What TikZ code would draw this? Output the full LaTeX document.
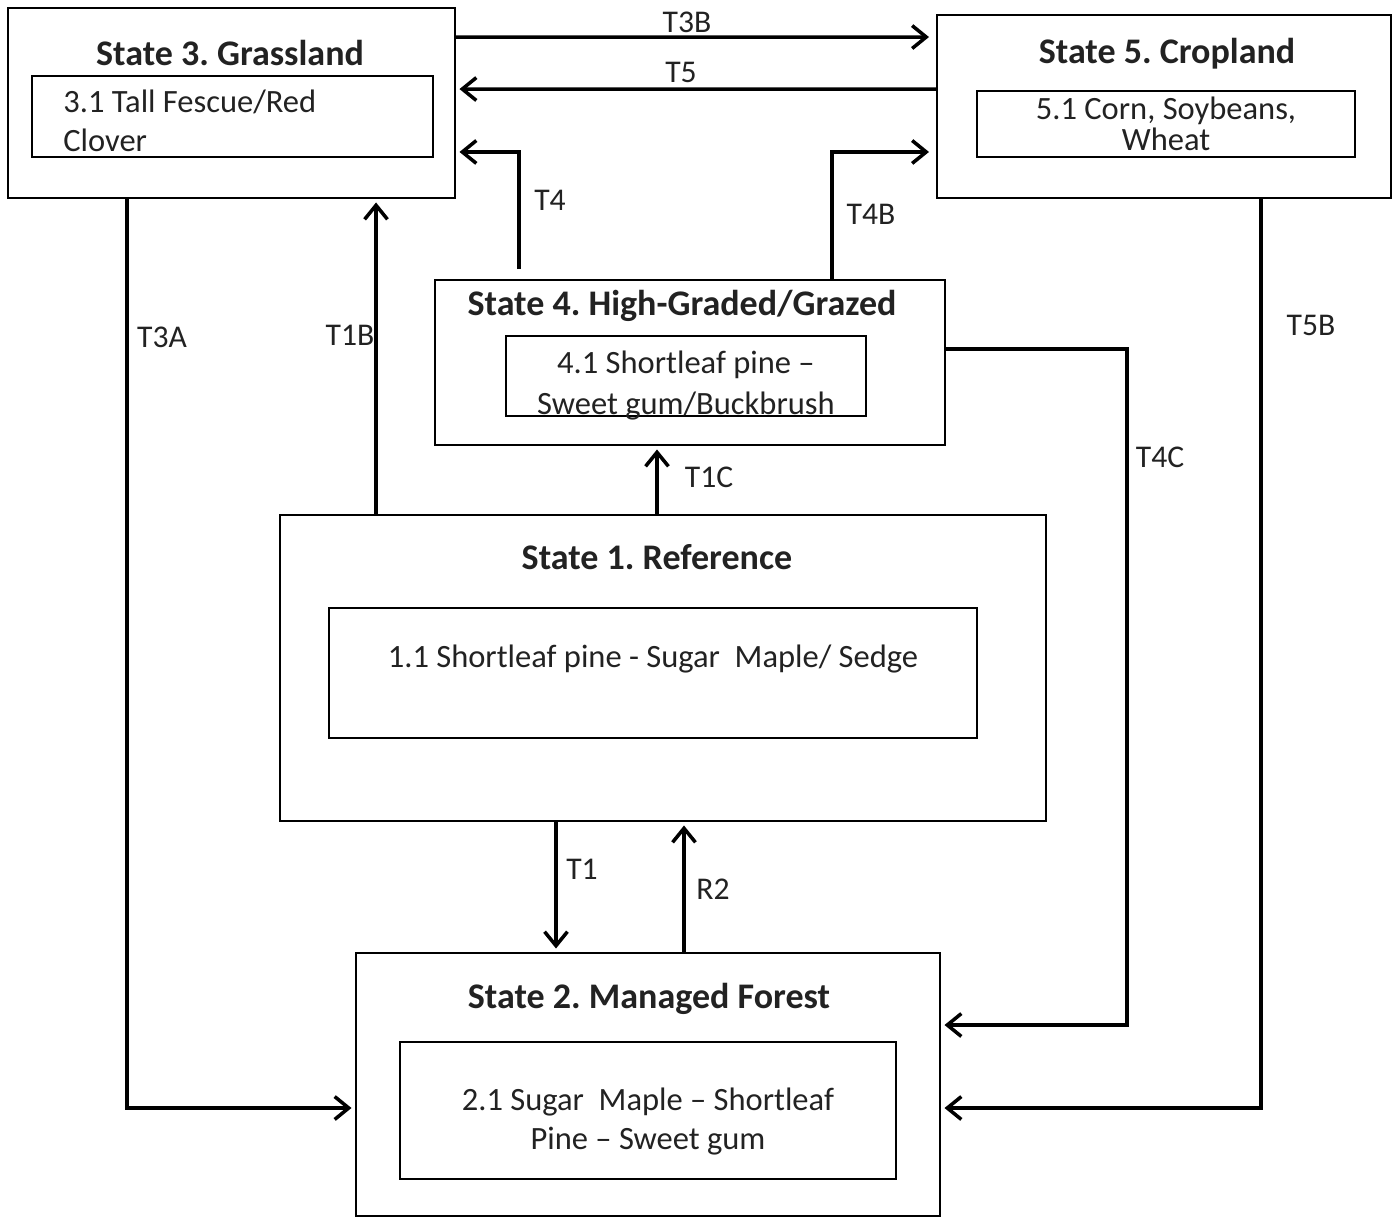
\documentclass[tikz,border=0pt]{standalone}
\usepackage{fontspec}
\setmainfont{Carlito}
\usetikzlibrary{arrows.meta}
\definecolor{txtGrey}{HTML}{222222}
\frenchspacing

\begin{document}
\begin{tikzpicture}[
    statebox/.style={draw, line width=1.1pt, minimum width=#1},
    phasebox/.style={draw, line width=1.1pt, inner sep=0pt},
    phasetext/.style={align=center, font=\fontsize{18.5}{22.5}\selectfont, text=txtGrey, inner sep=0pt},
    title/.style={font=\bfseries\fontsize{20.5}{25}\selectfont, text=txtGrey},
    lbl/.style={font=\fontsize{18}{22}\selectfont, text=txtGrey},
    arr/.style={line width=2pt, -{Straight Barb[length=8pt,width=13pt,line width=2pt]}, shorten >=2pt}
]
    \useasboundingbox (0,0) rectangle (27.96,-24.36);
    % states
    \node[statebox=8.94cm, minimum height=3.80cm] (s3) at (4.63,-2.06) {};
    \node[statebox=9.08cm, minimum height=3.66cm] (s5) at (23.28,-2.13) {};
    \node[statebox=10.20cm, minimum height=3.30cm] (s4) at (13.80,-7.25) {};
    \node[statebox=15.32cm, minimum height=6.12cm] (s1) at (13.26,-13.36) {};
    \node[statebox=11.68cm, minimum height=5.26cm] (s2) at (12.96,-21.69) {};
    \node[title] (s3t) at (4.60,-1.06) {State 3. Grassland};
    \node[title] (s5t) at (23.34,-1.08) {State 5. Cropland};
    \node[title] (s4t) at (13.64,-6.12) {State 4. High-Graded/Grazed};
    \node[title] (s1t) at (13.14,-11.14) {State 1. Reference};
    \node[title] (s2t) at (12.98,-19.98) {State 2. Managed Forest};
    % communities
    \node[phasebox, minimum width=8.02cm, minimum height=1.62cm] (p31) at (4.65,-2.33) {};
    \node[phasebox, minimum width=7.56cm, minimum height=1.32cm] (p51) at (23.32,-2.48) {};
    \node[phasebox, minimum width=7.20cm, minimum height=1.60cm] (p41) at (13.72,-7.52) {};
    \node[phasebox, minimum width=12.96cm, minimum height=2.60cm] (p11) at (13.06,-13.46) {};
    \node[phasebox, minimum width=9.92cm, minimum height=2.74cm] (p21) at (12.96,-22.21) {};
    \node[phasetext, align=left, anchor=west] (p31t) at ([xshift=0.64cm,yshift=-0.09cm]p31.west) {3.1 Tall Fescue/Red\\Clover};
    \node[phasetext] (p51t) at (p51) {5.1 Corn, Soybeans,\\[-4.5pt]Wheat};
    \node[phasetext] (p41t) at ([yshift=-0.19cm]p41) {4.1 Shortleaf pine --\\[1pt]Sweet gum/Buckbrush};
    \node[phasetext] (p11t) at ([yshift=0.28cm]p11) {1.1 Shortleaf pine - Sugar\ \ Maple/ Sedge};
    \node[phasetext] (p21t) at ([yshift=-0.22cm]p21) {2.1 Sugar\ \ Maple -- Shortleaf\\Pine -- Sweet gum};
    % transitions
    \coordinate (t1b) at ([xshift=1.94cm]s1.north west);
    \draw[arr, shorten >=4pt] ([yshift=-0.60cm]s3.north east) -- ([yshift=-0.46cm]s5.north west);
    \draw[arr] ([yshift=-1.50cm]s5.north west) -- ([yshift=-1.64cm]s3.north east);
    \draw[arr, shorten <=0.2cm] ([xshift=1.70cm]s4.north west) |- ([yshift=0.94cm]s3.south east);
    \draw[arr, shorten >=4pt] ([xshift=-2.28cm]s4.north east) |- ([yshift=0.94cm]s5.south west);
    \draw[arr] (t1b) -- (t1b |- s3.south);
    \draw[arr] ([xshift=2.40cm]s3.south west) |- ([yshift=-0.47cm]s2.west);
    \draw[arr] ([yshift=0.27cm]s4.east) -- ++(3.62,0) |- ([yshift=1.19cm]s2.east);
    \draw[arr] ([xshift=1.94cm]s5.south) |- ([yshift=-0.47cm]s2.east);
    \draw[arr] ([xshift=-0.12cm]s1.north) -- ([xshift=-0.66cm]s4.south);
    \draw[arr] ([xshift=-2.14cm]s1.south) -- ([xshift=-1.84cm]s2.north);
    \draw[arr] ([xshift=0.72cm]s2.north) -- ([xshift=0.42cm]s1.south);
    % labels
    \node[lbl] (lT3B) at (13.74,-0.44) {T3B};
    \node[lbl] (lT5) at (13.62,-1.44) {T5};
    \node[lbl] (lT4) at (11.00,-4.00) {T4};
    \node[lbl] (lT4B) at (17.42,-4.28) {T4B};
    \node[lbl] (lT1B) at (7.00,-6.70) {T1B};
    \node[lbl] (lT3A) at (3.24,-6.74) {T3A};
    \node[lbl] (lT5B) at (26.22,-6.50) {T5B};
    \node[lbl] (lT4C) at (23.20,-9.14) {T4C};
    \node[lbl] (lT1C) at (14.18,-9.54) {T1C};
    \node[lbl] (lT1) at (11.64,-17.38) {T1};
    \node[lbl] (lR2) at (14.26,-17.78) {R2};
\end{tikzpicture}
\end{document}
